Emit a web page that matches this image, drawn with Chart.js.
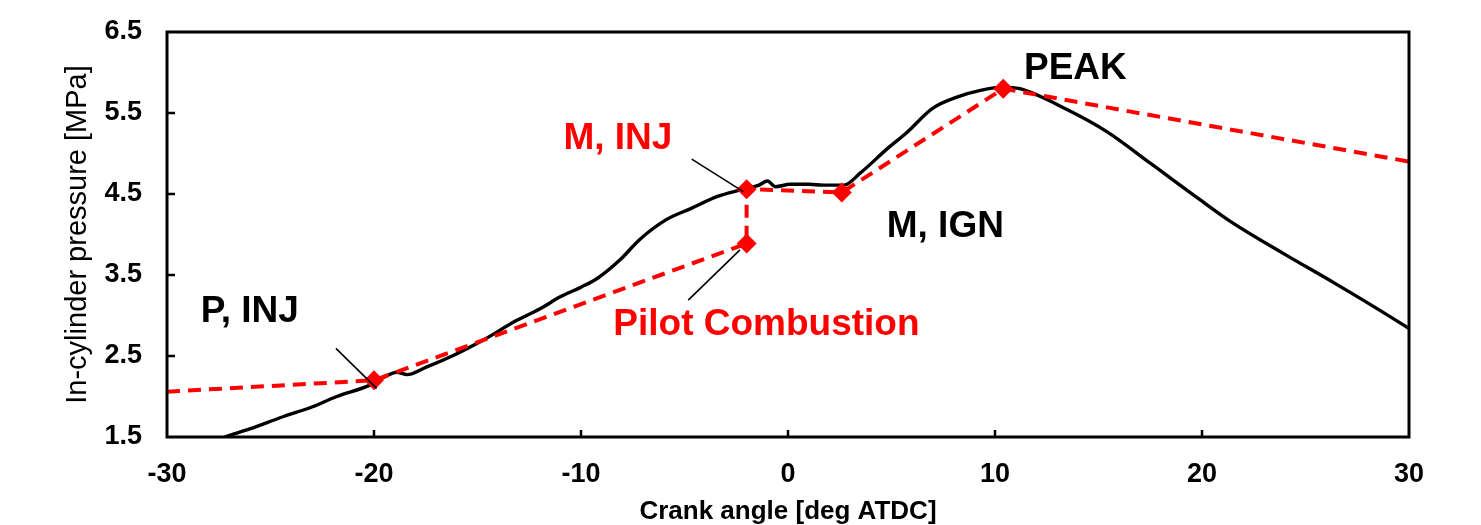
<!DOCTYPE html>
<html><head><meta charset="utf-8">
<script src="https://cdn.jsdelivr.net/npm/chart.js@4.4.1/dist/chart.umd.min.js"></script>
<style>html,body{margin:0;padding:0;background:#fff;} #wrap{width:1481px;height:525px;position:relative;}</style>
</head><body><div id="wrap"><canvas id="c"></canvas></div>
<script>
// Measured in-cylinder pressure trace
const crankAngle = [-28, -27.2, -26, -24.4, -23, -21.8, -20.2, -19.5, -18.9, -18.4, -17.5, -16.3, -14.7, -13.1, -12, -11, -10, -9.2, -8.1, -7.2, -5.9, -4.7, -3.4, -2.3, -1.4, -1.0, -0.6, 0.1, 1.0, 1.7, 2.7, 3.5, 4.8, 5.7, 7.0, 8.2, 9.3, 10.4, 11.2, 13.5, 15.4, 17.5, 19.9, 21.5, 23.9, 26.4, 28.3, 30];
const pressure   = [1.42, 1.50, 1.60, 1.75, 1.87, 2.00, 2.14, 2.24, 2.30, 2.27, 2.36, 2.49, 2.70, 2.94, 3.08, 3.23, 3.35, 3.46, 3.69, 3.93, 4.18, 4.32, 4.47, 4.55, 4.61, 4.66, 4.59, 4.62, 4.62, 4.61, 4.61, 4.76, 5.06, 5.25, 5.56, 5.70, 5.78, 5.82, 5.80, 5.54, 5.27, 4.88, 4.43, 4.14, 3.77, 3.40, 3.11, 2.84];
// Key events (dashed red construction line)
const keyAngle    = [-30, -20, -2, -2, 2.6, 10.4, 30];
const keyPressure = [2.06, 2.2, 3.89, 4.56, 4.52, 5.8, 4.9];
const keyMarked   = [false, true, true, true, true, true, false];
// Axis ticks
const xTicks = [-30, -20, -10, 0, 10, 20, 30];
const yTicks = [1.5, 2.5, 3.5, 4.5, 5.5, 6.5];
const xTitle = 'Crank angle [deg ATDC]';
const yTitle = 'In-cylinder pressure [MPa]';
// Annotation texts
const noteText  = ['P, INJ', 'M, INJ', 'Pilot Combustion', 'M, IGN', 'PEAK'];
const noteColor = ['#000', '#ff0000', '#ff0000', '#000', '#000'];
const noteAt = [[-28.37, 2.92], [-10.85, 5.06], [-8.44, 2.76], [4.77, 3.97], [11.40, 5.92]];
const leaders = [[-21.84, 2.595, -19.87, 2.10], [-4.65, 4.93, -2.16, 4.53], [-4.82, 3.19, -2.32, 3.81]];

const FONT = '"Liberation Sans", Arial, sans-serif';

const decor = {
  id: 'decor',
  afterDatasetsDraw(chart) {
    const {ctx, chartArea: a, scales: {x, y}} = chart;
    ctx.save();
    ctx.strokeStyle = '#000';
    // inward tick marks
    ctx.lineWidth = 2.5;
    ctx.beginPath();
    yTicks.slice(1, -1).forEach(v => { const py = Math.round(y.getPixelForValue(v)); ctx.moveTo(a.left, py); ctx.lineTo(a.left + 8, py); });
    xTicks.slice(1, -1).forEach(v => { const px = Math.round(x.getPixelForValue(v)); ctx.moveTo(px, a.bottom); ctx.lineTo(px, a.bottom - 7); });
    ctx.stroke();
    // box
    ctx.lineWidth = 3;
    ctx.strokeRect(a.left, a.top, a.right - a.left, a.bottom - a.top);
    // leader lines
    ctx.lineWidth = 1.6;
    ctx.beginPath();
    leaders.forEach(l => { ctx.moveTo(x.getPixelForValue(l[0]), y.getPixelForValue(l[1])); ctx.lineTo(x.getPixelForValue(l[2]), y.getPixelForValue(l[3])); });
    ctx.stroke();
    // annotation texts
    ctx.font = 'bold 37px ' + FONT;
    ctx.textBaseline = 'alphabetic';
    ctx.textAlign = 'left';
    noteText.forEach((t, i) => {
      ctx.fillStyle = noteColor[i];
      ctx.fillText(t, x.getPixelForValue(noteAt[i][0]), y.getPixelForValue(noteAt[i][1]));
    });
    ctx.restore();
  }
};

new Chart(document.getElementById('c'), {
  type: 'scatter',
  data: {
    datasets: [
      {
        label: 'Key events',
        data: keyAngle.map((v, i) => ({x: v, y: keyPressure[i]})),
        showLine: true,
        borderColor: '#ff0000',
        backgroundColor: '#ff0000',
        borderWidth: 4,
        borderDash: [13, 8],
        pointStyle: 'rectRot',
        pointRadius: keyMarked.map(m => m ? 10 : 0),
        pointBorderWidth: 0,
        pointHoverRadius: keyMarked.map(m => m ? 10 : 0),
        tension: 0,
        clip: 0,
        order: 0
      },
      {
        label: 'Pressure',
        data: crankAngle.map((v, i) => ({x: v, y: pressure[i]})),
        showLine: true,
        borderColor: '#000',
        borderWidth: 3.4,
        pointRadius: 0,
        pointHoverRadius: 0,
        cubicInterpolationMode: 'monotone',
        clip: 0,
        order: 1
      }
    ]
  },
  plugins: [decor],
  options: {
    responsive: true,
    maintainAspectRatio: false,
    devicePixelRatio: 1,
    animation: false,
    events: [],
    layout: {padding: {left: 0, right: 72, top: 32, bottom: 0}},
    plugins: {legend: {display: false}, tooltip: {enabled: false}},
    scales: {
      x: {
        type: 'linear', min: -30, max: 30,
        afterBuildTicks: s => { s.ticks = xTicks.map(v => ({value: v})); },
        afterFit: s => { s.height = 88; s.paddingLeft = 0; s.paddingRight = 0; },
        grid: {display: false, drawTicks: false},
        border: {display: false},
        ticks: {color: '#000', padding: 21, font: {family: FONT, size: 27, weight: 'bold'}, callback: v => String(v)},
        title: {display: true, text: xTitle, color: '#000', padding: {top: 0, bottom: -2}, font: {family: FONT, size: 26, weight: 'bold'}}
      },
      y: {
        type: 'linear', min: 1.5, max: 6.5,
        afterBuildTicks: s => { s.ticks = yTicks.map(v => ({value: v})); },
        afterFit: s => { s.width = 167; s.paddingTop = 0; s.paddingBottom = 0; },
        grid: {display: false, drawTicks: false},
        border: {display: false},
        ticks: {color: '#000', padding: 25, font: {family: FONT, size: 27, weight: 'bold'}, callback: v => Number(v).toFixed(1)},
        title: {display: true, text: yTitle, color: '#000', padding: {top: 61, bottom: 0}, font: {family: FONT, size: 29, weight: 'normal'}}
      }
    }
  }
});
</script>
</body></html>
